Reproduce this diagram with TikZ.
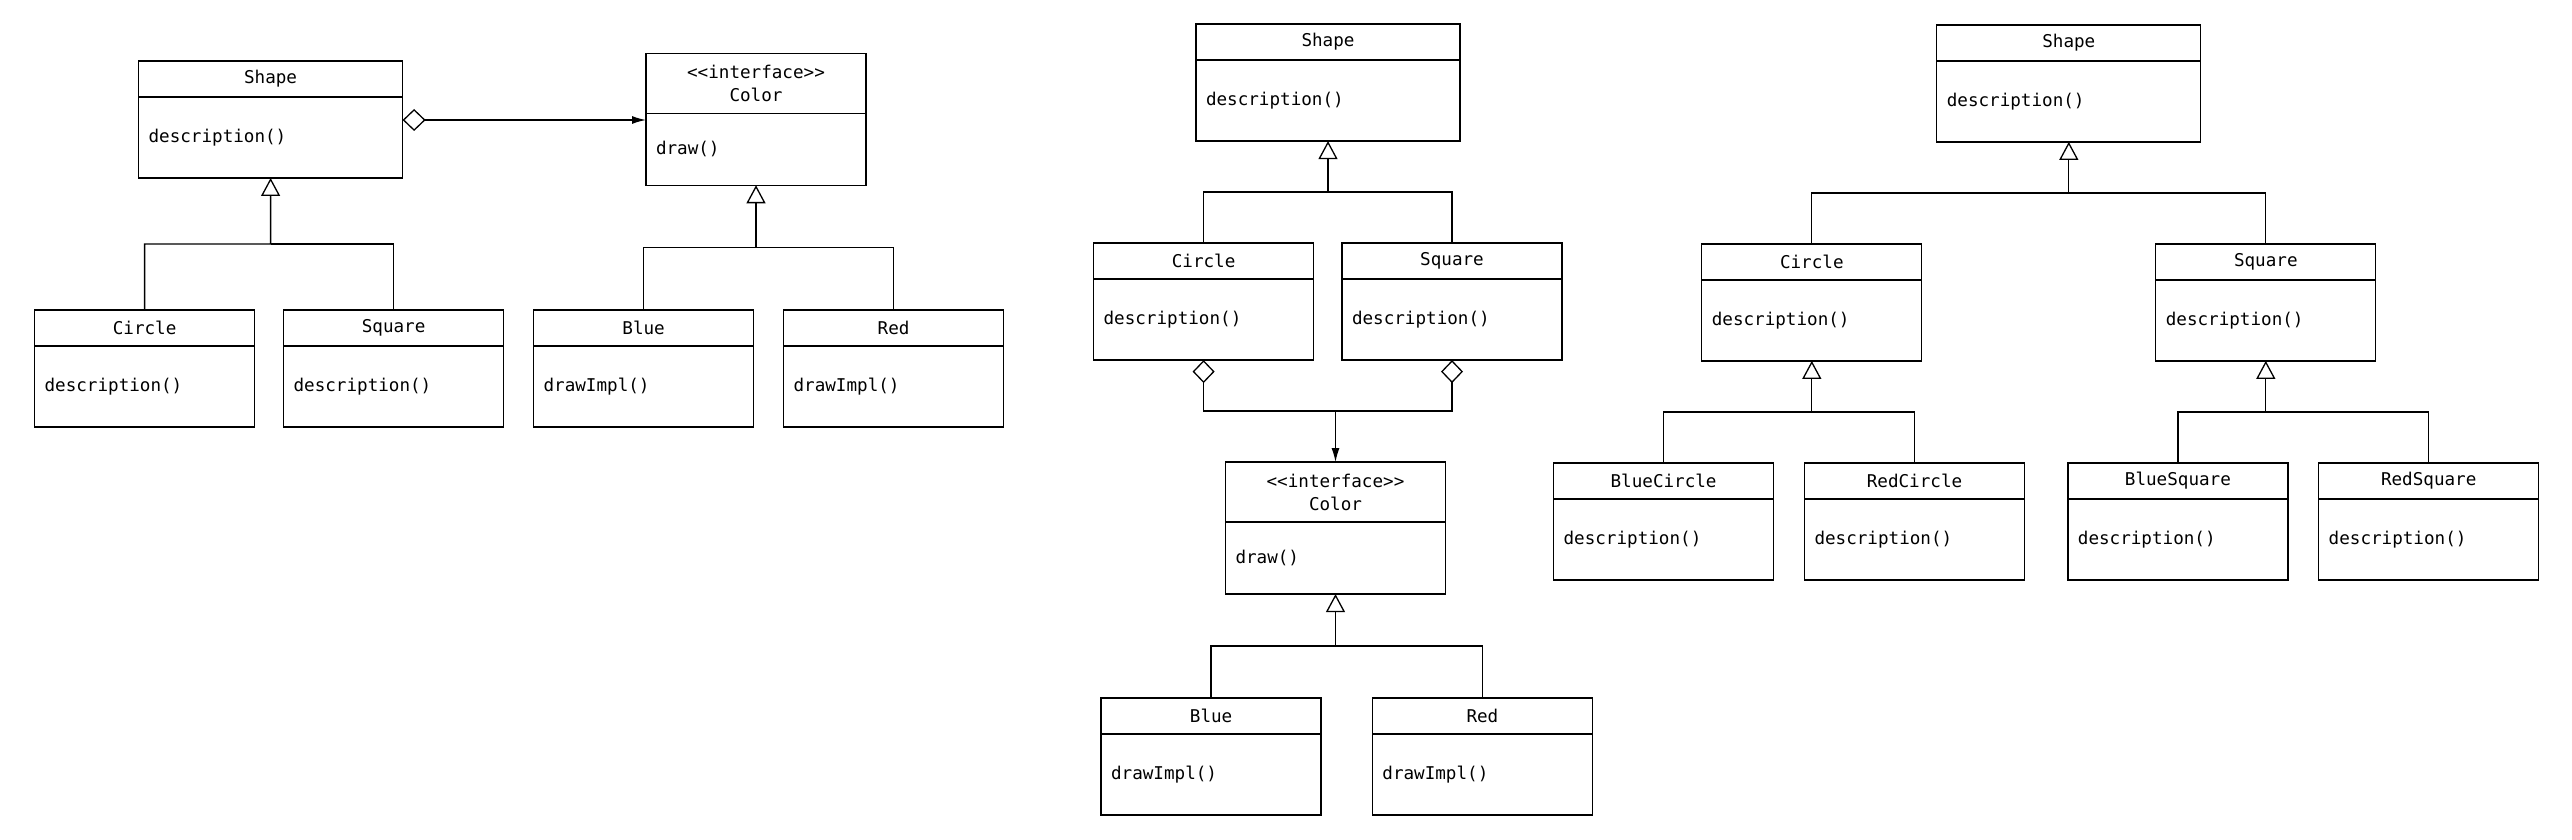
\documentclass[tikz,border=0pt]{standalone}
\usepackage{fontspec}
\setmonofont{DejaVu Sans Mono}
\usetikzlibrary{arrows.meta,positioning,calc}

\tikzset{
  umlhead/.style={draw, minimum width=110pt, minimum height=18pt, inner sep=0pt, outer sep=0pt, align=center},
  umlbody/.style={draw, minimum width=110pt, minimum height=40.5pt, inner xsep=5pt, inner ysep=0pt, outer sep=0pt,
                  text width=100pt, align=left, below=0pt of #1},
  umlwide/.style={minimum width=132pt, text width=122pt},
  iface/.style={minimum height=30pt},
  ifacebody/.style={minimum height=36pt},
  inherit/.style={-{Triangle[open,length=9pt,width=9.5pt]}},
  hasa/.style={{Diamond[open,length=11.5pt,width=11pt]}-{Latex[length=7pt,width=4pt]}},
  hasaline/.style={{Diamond[open,length=11.5pt,width=11pt]}-}
}

\begin{document}
\begin{tikzpicture}[line width=0.65pt, font=\ttfamily\fontsize{8.8pt}{11.5pt}\selectfont]
  \useasboundingbox (0,0) rectangle (1286pt,-420pt);

  % two hierarchies joined by a bridge
  \node [umlhead,umlwide,anchor=north] (shapeL) at (135.3pt,-30.5pt) {Shape};
  \node [umlbody=shapeL,umlwide]       (shapeL-b) {description()};
  \node [umlhead] (circleL) [below=66pt of shapeL-b, xshift=-63pt] {Circle};
  \node [umlbody=circleL] (circleL-b) {description()};
  \node [umlhead] (squareL) [right=14.5pt of circleL] {Square};
  \node [umlbody=squareL] (squareL-b) {description()};
  \node [umlhead] (blueL)   [right=15pt of squareL] {Blue};
  \node [umlbody=blueL]   (blueL-b) {drawImpl()};
  \node [umlhead] (redL)    [right=15pt of blueL] {Red};
  \node [umlbody=redL]    (redL-b) {drawImpl()};
  \node [umlhead,iface,anchor=north] (colorL) at (378pt,-26.65pt) {<<interface>>\\Color};
  \node [umlbody=colorL,ifacebody] (colorL-b) {draw()};

  \coordinate (jL) at ($(shapeL-b.south)!.5!(shapeL-b.south |- circleL.north)$);
  \draw [inherit] (circleL.north) |- (jL) -- (shapeL-b.south);
  \draw (squareL.north) |- (jL);
  \coordinate (jC) at ($(colorL-b.south)!.5!(colorL-b.south |- blueL.north)$);
  \draw [inherit] (blueL.north) |- (jC) -- (colorL-b.south);
  \draw (redL.north) |- (jC);
  \draw [hasa] ([yshift=-11.5pt]shapeL-b.north east) -- ([yshift=-3.35pt]colorL-b.north west);

  % middle: both shapes hold a color
  \node [umlhead,umlwide,anchor=north] (shapeM) at (664pt,-12.05pt) {Shape};
  \node [umlbody=shapeM,umlwide]       (shapeM-b) {description()};
  \node [umlhead] (circleM) [below=51pt of shapeM-b, xshift=-62.2pt] {Circle};
  \node [umlbody=circleM] (circleM-b) {description()};
  \node [umlhead] (squareM) [right=14.2pt of circleM] {Square};
  \node [umlbody=squareM] (squareM-b) {description()};
  \node [umlhead,iface] (colorM) [below=51pt of circleM-b, xshift=65.95pt] {<<interface>>\\Color};
  \node [umlbody=colorM,ifacebody] (colorM-b) {draw()};
  \node [umlhead] (blueM) [below=52pt of colorM-b, xshift=-62.2pt] {Blue};
  \node [umlbody=blueM] (blueM-b) {drawImpl()};
  \node [umlhead] (redM)  [right=25.65pt of blueM] {Red};
  \node [umlbody=redM]  (redM-b) {drawImpl()};

  \coordinate (jM) at ($(shapeM-b.south)!.5!(shapeM-b.south |- circleM.north)$);
  \draw [inherit] (circleM.north) |- (jM) -- (shapeM-b.south);
  \draw (squareM.north) |- (jM);
  \coordinate (jA) at ($(colorM.north)!.5!(colorM.north |- circleM-b.south)$);
  \draw [hasa] (circleM-b.south) |- (jA) -- (colorM.north);
  \draw [hasaline] (squareM-b.south) |- (jA);
  \coordinate (jN) at ($(colorM-b.south)!.5!(colorM-b.south |- blueM.north)$);
  \draw [inherit] (blueM.north) |- (jN) -- (colorM-b.south);
  \draw (redM.north) |- (jN);

  % right: one class per combination
  \node [umlhead,umlwide,anchor=north] (shapeR) at (1034.4pt,-12.45pt) {Shape};
  \node [umlbody=shapeR,umlwide]       (shapeR-b) {description()};
  \node [umlhead] (circleR) [below=51pt of shapeR-b, xshift=-128.5pt] {Circle};
  \node [umlbody=circleR] (circleR-b) {description()};
  \node [umlhead] (squareR) [right=117pt of circleR] {Square};
  \node [umlbody=squareR] (squareR-b) {description()};
  \node [umlhead] (blueCircle) [below=51pt of circleR-b, xshift=-74.1pt] {BlueCircle};
  \node [umlbody=blueCircle] (blueCircle-b) {description()};
  \node [umlhead] (redCircle) [right=15.45pt of blueCircle] {RedCircle};
  \node [umlbody=redCircle] (redCircle-b) {description()};
  \node [umlhead] (blueSquare) [below=51pt of squareR-b, xshift=-43.95pt] {BlueSquare};
  \node [umlbody=blueSquare] (blueSquare-b) {description()};
  \node [umlhead] (redSquare) [right=15.4pt of blueSquare] {RedSquare};
  \node [umlbody=redSquare] (redSquare-b) {description()};

  \coordinate (jR) at ($(shapeR-b.south)!.5!(shapeR-b.south |- circleR.north)$);
  \draw [inherit] (circleR.north) |- (jR) -- (shapeR-b.south);
  \draw (squareR.north) |- (jR);
  \coordinate (jRC) at ($(circleR-b.south)!.5!(circleR-b.south |- blueCircle.north)$);
  \draw [inherit] (blueCircle.north) |- (jRC) -- (circleR-b.south);
  \draw (redCircle.north) |- (jRC);
  \coordinate (jRS) at ($(squareR-b.south)!.5!(squareR-b.south |- blueSquare.north)$);
  \draw [inherit] (blueSquare.north) |- (jRS) -- (squareR-b.south);
  \draw (redSquare.north) |- (jRS);
\end{tikzpicture}
\end{document}
